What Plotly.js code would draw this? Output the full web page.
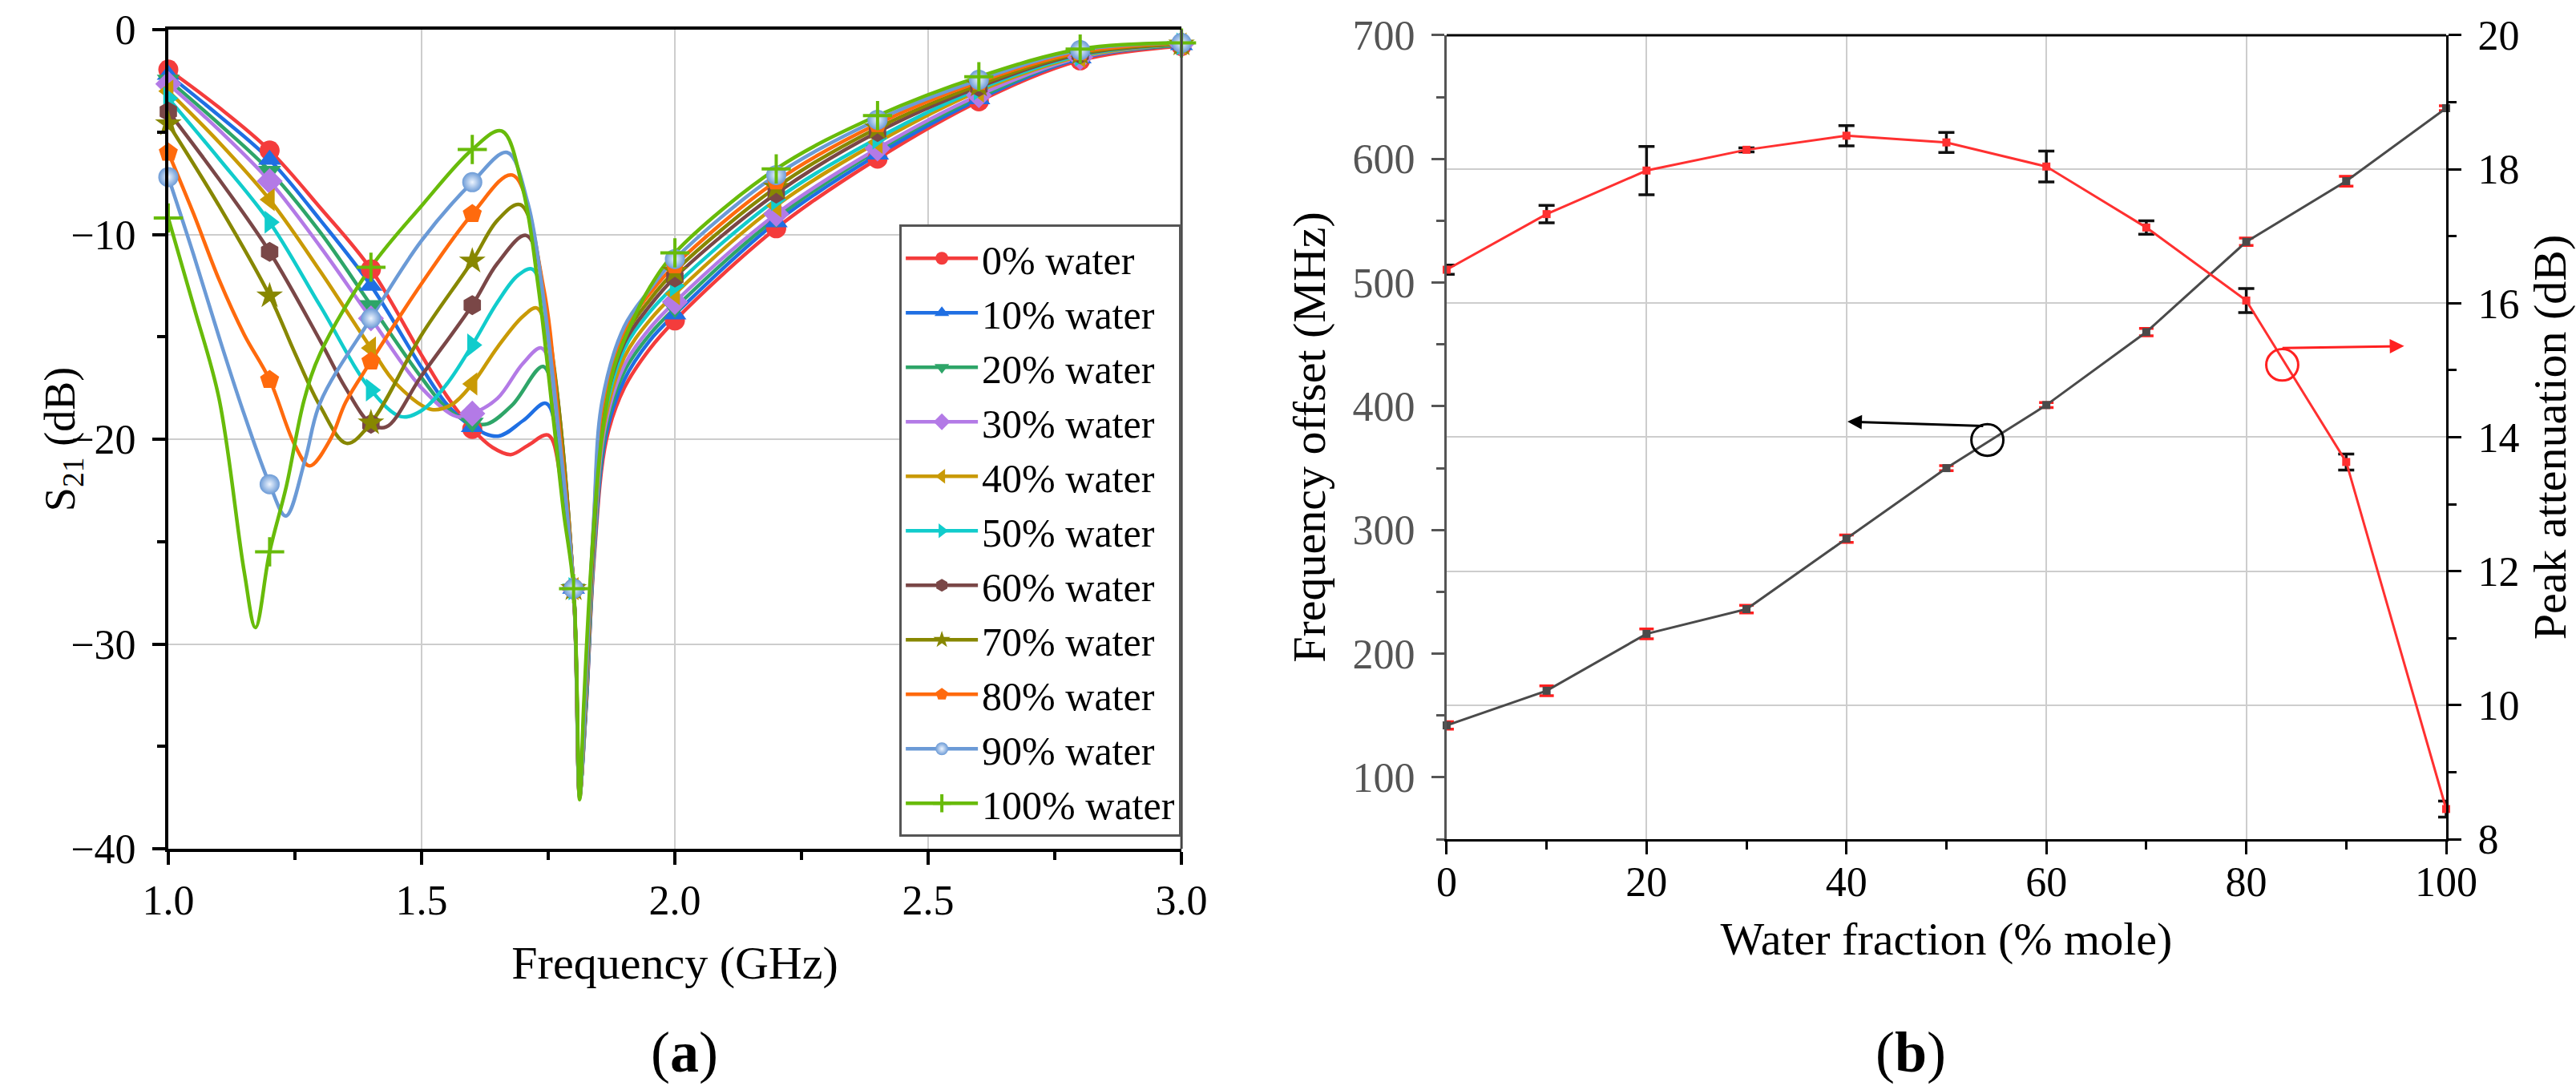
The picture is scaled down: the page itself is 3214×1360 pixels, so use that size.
<!DOCTYPE html>
<html>
<head>
<meta charset="utf-8">
<script src="https://cdn.plot.ly/plotly-3.0.1.min.js"></script>
<style>
  html, body { margin: 0; padding: 0; background: #fff; }
  #chart { width: 3214px; height: 1360px; }
</style>
</head>
<body>
<div id="chart"></div>
<script>
// (a) S21 spectra, one curve per water fraction
const waterLabels = ["0% water", "10% water", "20% water", "30% water", "40% water", "50% water",
  "60% water", "70% water", "80% water", "90% water", "100% water"];

const f00 = [1.0, 1.1, 1.2, 1.3, 1.4, 1.5, 1.55, 1.6, 1.64, 1.676, 1.71, 1.75, 1.775, 1.8, 1.812, 1.825, 1.84, 1.865, 1.9, 1.95, 2.0, 2.2, 2.4, 2.6, 2.8, 3.0];
const s00 = [-1.95, -3.8, -5.9, -8.7, -11.7, -15.9, -17.9, -19.5, -20.4, -20.75, -20.3, -19.8, -22.0, -27.3, -37.0, -33.0, -26.0, -20.0, -17.5, -15.6, -14.2, -9.7, -6.3, -3.5, -1.5, -0.8];

const f10 = [1.0, 1.1, 1.2, 1.3, 1.4, 1.5, 1.55, 1.6, 1.651, 1.7, 1.746, 1.775, 1.8, 1.812, 1.825, 1.84, 1.864, 1.9, 1.95, 2.0, 2.2, 2.4, 2.6, 2.8, 3.0];
const s10 = [-2.2, -4.2, -6.35, -9.3, -12.5, -16.5, -18.3, -19.4, -19.85, -19.1, -18.25, -21.5, -27.3, -37.2, -33.0, -25.8, -19.8, -17.1, -15.2, -13.9, -9.4, -6.1, -3.4, -1.4, -0.75];

const f20 = [1.0, 1.1, 1.2, 1.3, 1.4, 1.5, 1.55, 1.6, 1.63, 1.68, 1.74, 1.77, 1.8, 1.812, 1.825, 1.84, 1.863, 1.9, 1.95, 2.0, 2.2, 2.4, 2.6, 2.8, 3.0];
const s20 = [-2.45, -4.6, -6.9, -9.9, -13.45, -17.0, -18.5, -19.2, -19.25, -18.3, -16.45, -20.0, -27.3, -37.2, -32.8, -25.6, -19.6, -16.7, -14.9, -13.6, -9.2, -5.9, -3.3, -1.35, -0.75];

const f30 = [1.0, 1.1, 1.2, 1.3, 1.4, 1.5, 1.57, 1.6, 1.65, 1.7, 1.737, 1.77, 1.8, 1.812, 1.825, 1.84, 1.862, 1.9, 1.95, 2.0, 2.2, 2.4, 2.6, 2.8, 3.0];
const s30 = [-2.65, -4.9, -7.4, -10.6, -14.1, -17.5, -18.9, -18.75, -18.0, -16.3, -15.55, -19.5, -27.3, -37.3, -32.6, -25.4, -19.4, -16.4, -14.6, -13.3, -9.0, -5.8, -3.2, -1.35, -0.7];

const f40 = [1.0, 1.1, 1.2, 1.3, 1.4, 1.45, 1.52, 1.56, 1.6, 1.65, 1.7, 1.728, 1.765, 1.8, 1.812, 1.825, 1.84, 1.861, 1.9, 1.95, 2.0, 2.2, 2.4, 2.6, 2.8, 3.0];
const s40 = [-3.0, -5.5, -8.3, -11.8, -15.55, -17.3, -18.55, -18.3, -17.3, -15.5, -14.0, -13.6, -18.0, -27.3, -37.3, -32.4, -25.0, -19.2, -16.0, -14.2, -12.9, -8.6, -5.5, -3.0, -1.3, -0.7];

const f50 = [1.0, 1.1, 1.2, 1.3, 1.4, 1.46, 1.5, 1.55, 1.6, 1.65, 1.69, 1.719, 1.76, 1.8, 1.812, 1.825, 1.84, 1.86, 1.9, 1.95, 2.0, 2.2, 2.4, 2.6, 2.8, 3.0];
const s50 = [-3.35, -6.3, -9.4, -13.5, -17.6, -18.9, -18.6, -17.3, -15.4, -13.3, -12.0, -11.7, -17.0, -27.3, -37.4, -32.2, -24.8, -19.0, -15.6, -13.8, -12.5, -8.3, -5.3, -2.9, -1.25, -0.7];

const f60 = [1.0, 1.1, 1.2, 1.3, 1.35, 1.4, 1.43, 1.5, 1.6, 1.65, 1.707, 1.755, 1.8, 1.812, 1.825, 1.84, 1.859, 1.9, 1.95, 2.0, 2.2, 2.4, 2.6, 2.8, 3.0];
const s60 = [-4.0, -7.3, -10.85, -15.2, -17.5, -19.25, -19.4, -16.9, -13.45, -11.4, -10.05, -15.5, -27.3, -37.4, -32.0, -24.6, -18.8, -15.3, -13.5, -12.1, -8.0, -5.0, -2.8, -1.2, -0.7];

const f70 = [1.0, 1.1, 1.2, 1.25, 1.3, 1.352, 1.4, 1.5, 1.6, 1.65, 1.695, 1.75, 1.8, 1.812, 1.825, 1.84, 1.858, 1.9, 1.95, 2.0, 2.2, 2.4, 2.6, 2.8, 3.0];
const s70 = [-4.6, -8.6, -13.0, -15.8, -18.4, -20.2, -19.2, -14.9, -11.3, -9.3, -8.55, -14.5, -27.3, -37.4, -31.8, -24.3, -18.6, -15.0, -13.2, -11.8, -7.7, -4.8, -2.7, -1.15, -0.7];

const f80 = [1.0, 1.05, 1.1, 1.15, 1.2, 1.25, 1.279, 1.32, 1.35, 1.4, 1.5, 1.6, 1.679, 1.74, 1.77, 1.8, 1.812, 1.825, 1.84, 1.857, 1.9, 1.95, 2.0, 2.2, 2.4, 2.6, 2.8, 3.0];
const s80 = [-6.0, -9.0, -12.2, -14.9, -17.1, -20.3, -21.3, -20.0, -18.2, -16.2, -12.4, -9.0, -7.1, -12.5, -19.0, -27.3, -37.5, -31.6, -24.0, -18.4, -14.7, -12.9, -11.5, -7.4, -4.6, -2.55, -1.1, -0.65];

const f90 = [1.0, 1.05, 1.1, 1.15, 1.2, 1.232, 1.27, 1.3, 1.4, 1.5, 1.6, 1.669, 1.71, 1.74, 1.77, 1.8, 1.812, 1.825, 1.84, 1.856, 1.9, 1.95, 2.0, 2.2, 2.4, 2.6, 2.8, 3.0];
const s90 = [-7.2, -11.0, -15.0, -18.8, -22.2, -23.75, -21.0, -18.2, -14.1, -10.3, -7.45, -6.0, -8.5, -13.0, -19.5, -27.3, -37.5, -31.4, -23.8, -18.2, -14.5, -12.7, -11.2, -7.1, -4.4, -2.45, -1.0, -0.65];

const f100 = [1.0, 1.05, 1.1, 1.15, 1.172, 1.2, 1.233, 1.268, 1.3, 1.4, 1.5, 1.6, 1.658, 1.7, 1.73, 1.76, 1.78, 1.8, 1.812, 1.82, 1.835, 1.855, 1.88, 1.915, 1.95, 2.0, 2.2, 2.4, 2.6, 2.8, 3.0];
const s100 = [-9.2, -13.5, -18.0, -26.5, -29.2, -25.5, -22.3, -18.1, -15.8, -11.6, -8.6, -5.85, -4.95, -7.8, -12.5, -19.0, -23.5, -27.3, -37.6, -33.0, -26.0, -20.0, -16.5, -14.3, -12.6, -10.9, -6.8, -4.2, -2.3, -0.95, -0.65];

// (b) frequency offset and peak attenuation vs water fraction
const waterFraction = [0, 10, 20, 30, 40, 50, 60, 70, 80, 90, 100];
const freqOffset = [142, 170, 216, 236, 293, 350, 401, 460, 533, 582, 641];
const freqOffsetErr = [3, 4, 4, 3, 3, 2, 2, 3, 3, 4, 2];
const peakAtten = [16.5, 17.33, 17.98, 18.29, 18.5, 18.4, 18.04, 17.13, 16.04, 13.63, 8.45];
const peakAttenErr = [0.07, 0.13, 0.36, 0.03, 0.15, 0.15, 0.23, 0.1, 0.18, 0.12, 0.12];

const seriesFreq = [f00, f10, f20, f30, f40, f50, f60, f70, f80, f90, f100];
const seriesS21 = [s00, s10, s20, s30, s40, s50, s60, s70, s80, s90, s100];
const colors = ["#f43c3c", "#1f6fe3", "#2ea568", "#b37ae6", "#c99a05", "#11cccc",
  "#7a4747", "#878700", "#ff6a0d", "#6b9ad6", "#68bb0a"];
const symbols = ["circle", "triangle-up", "triangle-down", "diamond", "triangle-left", "triangle-right",
  "hexagon", "star", "pentagon", "circle", "cross-thin"];

const FONT = "'Liberation Serif', 'Times New Roman', 'DejaVu Serif', serif";

function markerStyle(i) {
  const m = { symbol: symbols[i], size: 25, color: colors[i], line: { width: 0 } };
  if (i === 9) m.gradient = { type: "radial", color: "#eef5ff" };
  if (i === 10) { m.size = 26; m.line = { width: 4, color: colors[i] }; }
  return m;
}

const traces = [];
// smooth curves
seriesFreq.forEach((fx, i) => {
  traces.push({
    x: fx, y: seriesS21[i], type: "scatter", mode: "lines",
    line: { color: colors[i], width: 4.5, shape: "spline", smoothing: 1 },
    xaxis: "x", yaxis: "y", showlegend: false, hoverinfo: "skip"
  });
});
// markers every 0.2 GHz
seriesFreq.forEach((fx, i) => {
  const mx = [], my = [];
  fx.forEach((v, k) => {
    if (Math.abs(v * 5 - Math.round(v * 5)) < 1e-6) { mx.push(v); my.push(seriesS21[i][k]); }
  });
  traces.push({
    x: mx, y: my, type: "scatter", mode: "markers", marker: markerStyle(i),
    xaxis: "x", yaxis: "y", showlegend: false, cliponaxis: false
  });
});
// legend entries
waterLabels.forEach((name, i) => {
  traces.push({
    x: [null], y: [null], type: "scatter", mode: "lines+markers", name: name,
    line: { color: colors[i], width: 4.5 }, marker: markerStyle(i),
    xaxis: "x", yaxis: "y", showlegend: true
  });
});

// panel (b)
traces.push({
  x: waterFraction, y: freqOffset, type: "scatter", mode: "lines+markers",
  line: { color: "#4a4a4a", width: 3 },
  marker: { symbol: "square", size: 10, color: "#4a4a4a" },
  error_y: { type: "data", array: freqOffsetErr, visible: true, color: "#ff2020", thickness: 3.5, width: 9 },
  xaxis: "x2", yaxis: "y2", showlegend: false, cliponaxis: false
});
traces.push({
  x: waterFraction, y: peakAtten, type: "scatter", mode: "lines+markers",
  line: { color: "#ff3030", width: 3 },
  marker: { symbol: "square", size: 10, color: "#ff3030" },
  error_y: { type: "data", array: peakAttenErr, visible: true, color: "#111", thickness: 3.5, width: 10 },
  xaxis: "x2", yaxis: "y3", showlegend: false, cliponaxis: false
});

const axisBase = {
  ticks: "outside", ticklen: 16, tickwidth: 4, tickcolor: "#000",
  showline: true, linecolor: "#000", linewidth: 4, zeroline: false,
  showgrid: true, gridcolor: "#cdcdcd", gridwidth: 2,
  tickfont: { family: FONT, size: 52, color: "#000" }
};

const layout = {
  width: 3214, height: 1360,
  margin: { l: 210, r: 162, t: 37, b: 301 },
  paper_bgcolor: "#fff", plot_bgcolor: "#fff",
  font: { family: FONT, color: "#000" },
  showlegend: true,
  legend: {
    x: 0.4448, xanchor: "right", y: 0.762, yanchor: "top",
    bordercolor: "#555", borderwidth: 3, bgcolor: "#fff",
    font: { family: FONT, size: 50, color: "#000" },
    itemwidth: 90, tracegroupgap: 0
  },
  xaxis: Object.assign({}, axisBase, {
    domain: [0, 0.4448], anchor: "y", range: [1, 3], tick0: 1, dtick: 0.5, tickformat: ".1f",
    mirror: true, ticklabelstandoff: 0,
    minor: { dtick: 0.25, ticks: "outside", ticklen: 10, tickwidth: 4, tickcolor: "#000", showgrid: false },
    title: { text: "Frequency (GHz)", font: { family: FONT, size: 58 }, standoff: 30 }
  }),
  yaxis: Object.assign({}, axisBase, {
    domain: [0, 1], anchor: "x", range: [-40, 0], dtick: 10,
    mirror: false, ticklabelstandoff: 10,
    minor: { dtick: 5, ticks: "outside", ticklen: 10, tickwidth: 4, tickcolor: "#000", showgrid: false }
  }),
  xaxis2: Object.assign({}, axisBase, {
    domain: [0.5612, 1], anchor: "y2", range: [0, 100], dtick: 20, linewidth: 3, tickwidth: 3,
    ticklabelstandoff: -10,
    minor: { dtick: 10, ticks: "outside", ticklen: 10, tickwidth: 3, tickcolor: "#000", showgrid: false },
    title: { text: "Water fraction (% mole)", font: { family: FONT, size: 58 }, standoff: 22 }
  }),
  yaxis2: Object.assign({}, axisBase, {
    domain: [0.0117, 0.9932], anchor: "x2", range: [50, 700], tick0: 0, dtick: 100,
    showgrid: false, linecolor: "#555", linewidth: 3, tickcolor: "#555", tickwidth: 3,
    tickfont: { family: FONT, size: 52, color: "#555" }, ticklabelstandoff: 10,
    minor: { dtick: 50, ticks: "outside", ticklen: 10, tickwidth: 3, tickcolor: "#555", showgrid: false },
    title: { text: "Frequency offset (MHz)", font: { family: FONT, size: 58, color: "#000" }, standoff: 16 }
  }),
  yaxis3: Object.assign({}, axisBase, {
    overlaying: "y2", side: "right", anchor: "x2", range: [8, 20], dtick: 2,
    linewidth: 3, tickwidth: 3, ticklabelstandoff: 10,
    minor: { dtick: 1, ticks: "outside", ticklen: 10, tickwidth: 3, tickcolor: "#000", showgrid: false },
    title: { text: "Peak attenuation (dB)", font: { family: FONT, size: 58 }, standoff: 20 }
  }),
  shapes: [
    { type: "line", xref: "x domain", yref: "y domain", x0: 1, x1: 1, y0: 0, y1: 1,
      line: { color: "#444", width: 3 } },
    { type: "line", xref: "x2 domain", yref: "y2 domain", x0: 0, x1: 1, y0: 1, y1: 1,
      line: { color: "#000", width: 3 } },
    { type: "circle", xref: "x2", yref: "y2", x0: 52.5, x1: 55.7, y0: 360, y1: 385.5,
      line: { color: "#000", width: 3 } },
    { type: "circle", xref: "x2", yref: "y3", x0: 82.0, x1: 85.2, y0: 14.845, y1: 15.315,
      line: { color: "#ff2020", width: 3 } }
  ],
  annotations: [
    { xref: "paper", yref: "paper", x: -0.0464, y: 0.5, xanchor: "center", yanchor: "middle",
      textangle: -90, showarrow: false,
      text: "S<sub>21</sub> (dB)", font: { family: FONT, size: 54, color: "#000" } },
    { xref: "x2", yref: "y2", x: 40.1, y: 387.6, axref: "x2", ayref: "y2", ax: 53.8, ay: 384,
      text: "", showarrow: true, arrowhead: 2, arrowsize: 1.2, arrowwidth: 3, arrowcolor: "#000" },
    { xref: "x2", yref: "y3", x: 95.8, y: 15.36, axref: "x2", ayref: "y3", ax: 83.5, ay: 15.33,
      text: "", showarrow: true, arrowhead: 2, arrowsize: 1.2, arrowwidth: 3, arrowcolor: "#ff2020" },
    { xref: "paper", yref: "paper", x: 0.211, y: -0.29, text: "(<b>a</b>)", showarrow: false,
      font: { family: FONT, size: 72, color: "#000" } },
    { xref: "paper", yref: "paper", x: 0.781, y: -0.29, text: "(<b>b</b>)", showarrow: false,
      font: { family: FONT, size: 72, color: "#000" } }
  ]
};

Plotly.newPlot("chart", traces, layout, { displayModeBar: false, staticPlot: true });
</script>
</body>
</html>
